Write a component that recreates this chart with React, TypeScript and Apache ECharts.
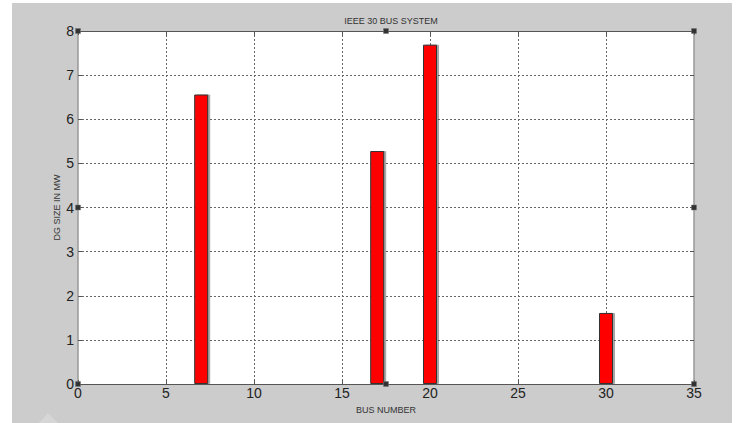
import React, { useEffect, useRef } from "react";
import * as echarts from "echarts";

const busNumbers = [7, 17, 20, 30];
const dgSizes = [6.56, 5.28, 7.69, 1.61];
const xTicks = { min: 0, max: 35, interval: 5 };
const yTicks = { min: 0, max: 8, interval: 1 };
const titleText = "IEEE 30 BUS SYSTEM";
const xName = "BUS NUMBER";
const yName = "DG SIZE IN MW";

export default function App() {
  const ref = useRef<HTMLDivElement>(null);
  useEffect(() => {
    if (!ref.current) return;
    const chart = echarts.init(ref.current, null, { renderer: "svg" });
    const font = "'Liberation Sans', Arial, sans-serif";
    const L = 78, T = 31, R = 694, B = 384;
    const mx = (L + R) / 2, my = (T + B) / 2;
    const handles = [
      [L, T], [mx, T], [R, T], [R, my], [R, B], [mx, B], [L, B], [L, my],
    ].map(([x, y]) => ({
      type: "rect",
      shape: { x: x - 2.5, y: y - 2.5, width: 5, height: 5 },
      style: { fill: "#333", stroke: "#777", lineWidth: 0.5 },
      z: 100,
    }));
    const grid = { color: "#666", type: [2, 2], width: 1 };
    chart.setOption({
      animation: false,
      backgroundColor: "#ffffff",
      textStyle: { fontFamily: font },
      title: {
        text: titleText,
        left: mx,
        top: 11,
        textAlign: "center",
        textStyle: { fontSize: 9, fontWeight: "normal", color: "#333", fontFamily: font },
      },
      graphic: [
        {
          type: "rect",
          shape: { x: 12, y: 3, width: 720, height: 420 },
          style: { fill: "#cccccc" },
          z: -10,
          silent: true,
        },
        {
          type: "rect",
          shape: { x: L, y: T, width: R - L, height: B - T },
          style: { fill: "#ffffff" },
          z: -9,
          silent: true,
        },
        {
          type: "polygon",
          shape: { points: [[39, 423], [48, 413], [58, 423]] },
          style: { fill: "#d6d6d6" },
          z: -5,
        },
        ...handles,
      ],
      grid: { left: L, top: T, right: 736 - R, bottom: 423 - B },
      xAxis: [
        {
          type: "value",
          ...xTicks,
          name: xName,
          nameLocation: "middle",
          nameGap: 21,
          nameTextStyle: { fontSize: 9, color: "#333", fontFamily: font },
          axisLine: { show: true, onZero: false, lineStyle: { color: "#555", width: 1 } },
          axisTick: { show: true, inside: true, length: 4, lineStyle: { color: "#555" } },
          axisLabel: { fontSize: 14, color: "#222", margin: 2, fontFamily: font },
          splitLine: { show: true, showMinLine: false, showMaxLine: false, lineStyle: grid },
        },
        {
          type: "value",
          ...xTicks,
          position: "top",
          axisLine: { show: true, onZero: false, lineStyle: { color: "#555", width: 1 } },
          axisTick: { show: true, inside: true, length: 4, lineStyle: { color: "#555" } },
          axisLabel: { show: false },
          splitLine: { show: false },
        },
      ],
      yAxis: [
        {
          type: "value",
          ...yTicks,
          name: yName,
          nameLocation: "middle",
          nameGap: 17,
          nameMoveOverlap: false,
          nameTextStyle: { fontSize: 9, color: "#333", fontFamily: font },
          axisLine: { show: true, onZero: false, lineStyle: { color: "#999", width: 1.5 } },
          axisTick: { show: true, inside: true, length: 4, lineStyle: { color: "#555" } },
          axisLabel: { fontSize: 14, color: "#222", margin: 4, fontFamily: font },
          splitLine: { show: true, showMinLine: false, showMaxLine: false, lineStyle: grid },
        },
        {
          type: "value",
          ...yTicks,
          position: "right",
          axisLine: { show: true, onZero: false, lineStyle: { color: "#999", width: 1.5 } },
          axisTick: { show: true, inside: true, length: 4, lineStyle: { color: "#555" } },
          axisLabel: { show: false },
          splitLine: { show: false },
        },
      ],
      series: [
        {
          type: "bar",
          xAxisIndex: 0,
          yAxisIndex: 0,
          barWidth: 14,
          data: busNumbers.map((b, i) => [b, dgSizes[i]]),
          itemStyle: {
            color: "#ff0000",
            borderColor: "#333",
            borderWidth: 1,
            shadowColor: "rgba(0,0,0,0.35)",
            shadowOffsetX: 2,
            shadowBlur: 1,
          },
        },
      ],
    });
    return () => chart.dispose();
  }, []);
  return (
    <div
      ref={ref}
      style={{ position: "fixed", left: 0, top: 0, width: 736, height: 423 }}
    />
  );
}
